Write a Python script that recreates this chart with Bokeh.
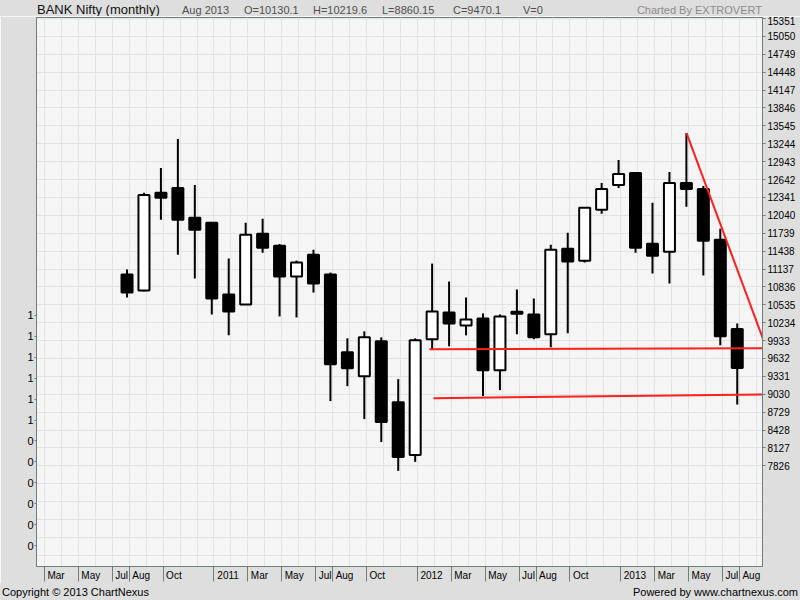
from bokeh.plotting import figure
from bokeh.models import FixedTicker, LinearAxis, Range1d, ColumnDataSource, Div
from bokeh.layouts import column
from bokeh.embed import file_html
from bokeh.resources import INLINE

# ---------------- data ----------------
months = ["2010-08", "2010-09", "2010-10", "2010-11", "2010-12",
          "2011-01", "2011-02", "2011-03", "2011-04", "2011-05", "2011-06",
          "2011-07", "2011-08", "2011-09", "2011-10", "2011-11", "2011-12",
          "2012-01", "2012-02", "2012-03", "2012-04", "2012-05", "2012-06",
          "2012-07", "2012-08", "2012-09", "2012-10", "2012-11", "2012-12",
          "2013-01", "2013-02", "2013-03", "2013-04", "2013-05", "2013-06",
          "2013-07", "2013-08"]
opens = [11044, 10776, 12418, 12502, 11999,
         11915, 10708, 10541, 11731, 11530, 11010,
         11379, 11044, 9736, 9334, 9921, 8898,
         8010, 9954, 10407, 10189, 10306, 9435,
         10420, 10373, 10038, 11479, 11278, 12133,
         12552, 12753, 11563, 11429, 12586, 12485,
         11630, 10130.1]
highs = [11127, 12418, 12837, 13323, 12552,
         11930, 11312, 11915, 11982, 11560, 11278,
         11463, 11077, 9971, 10088, 9988, 9284,
         9971, 11228, 10926, 10658, 10390, 10373,
         10792, 10641, 11546, 11748, 12180, 12586,
         12971, 12770, 12250, 12770, 13424, 12535,
         11815, 10219.6]
lows = [10658, 10760, 11965, 11379, 10977,
        10373, 10021, 10530, 11412, 10340, 10323,
        10742, 8915, 9167, 8613, 8228, 7742,
        7893, 9787, 9837, 10021, 8999, 9100,
        10038, 9954, 9820, 10055, 11245, 12066,
        12502, 11412, 11060, 10893, 12183, 11027,
        9854, 8860.15]
closes = [10742, 12384, 12334, 11965, 11798,
          10641, 10424, 11714, 11496, 11010, 11245,
          10893, 9535, 9468, 9988, 8563, 7977,
          9938, 10424, 10222, 10289, 9435, 10340,
          10385, 9988, 11463, 11262, 12167, 12485,
          12736, 11496, 11362, 12586, 12485, 11614,
          10005, 9470.1]

# right price axis tick values
price_ticks = [7826, 8127, 8428, 8729, 9030, 9331, 9632, 9933, 10234, 10535,
               10836, 11137, 11438, 11739, 12040, 12341, 12642, 12943, 13244,
               13545, 13846, 14147, 14448, 14749, 15050, 15351]
price_grid_extra = [6321, 6622, 6923, 7224, 7525]

# left (volume) axis ticks and labels
vol_ticks = [0, 1, 2, 3, 4, 5, 6, 7, 8, 9, 10, 11]
vol_labels = ["0", "0", "0", "0", "0", "0", "1", "1", "1", "1", "1", "1"]

# bottom axis ticks
x_tick_months = ["2010-03", "2010-05", "2010-07", "2010-08", "2010-10",
                 "2011-01", "2011-03", "2011-05", "2011-07", "2011-08", "2011-10",
                 "2012-01", "2012-03", "2012-05", "2012-07", "2012-08", "2012-10",
                 "2013-01", "2013-03", "2013-05", "2013-07", "2013-08"]
x_tick_labels = ["Mar", "May", "Jul", "Aug", "Oct",
                 "2011", "Mar", "May", "Jul", "Aug", "Oct",
                 "2012", "Mar", "May", "Jul", "Aug", "Oct",
                 "2013", "Mar", "May", "Jul", "Aug"]

# red trend lines (month position, price)
trend_down_x = [39.88, 44.6]
trend_down_y = [13424, 9800]
support1_x = [24.71, 44.6]
support1_y = [9787, 9803]
support2_x = [24.95, 44.6]
support2_y = [8965, 9028]

# header / footer texts
title_text = "BANK Nifty (monthly)"
info_texts = ["Aug 2013", "O=10130.1", "H=10219.6", "L=8860.15", "C=9470.1", "V=0"]
credit_text = "Charted By EXTROVERT"
copyright_text = "Copyright \u00a9 2013 ChartNexus"
powered_text = "Powered by www.chartnexus.com"


def month_index(s):
    y, m = s.split("-")
    return (int(y) - 2010) * 12 + int(m) - 1


# ---------------- layout constants ----------------
W = 800
HEAD_H, FOOT_H = 16, 17
FIG_H = 600 - HEAD_H - FOOT_H
FL, FR, FT, FB = 36, 38, 1, 15
FW = W - FL - FR
X0, X1 = 1.53, 44.36
PX_PER_MONTH = FW / (X1 - X0)
FONT = "Liberation Sans"
BORDER = "#6f7f7f"
BG = "#dedede"
AXIS_FS = 10

# Liberation Sans advance widths (per 1000 em) for axis label glyphs
_adv = {"M": 833, "a": 556, "r": 333, "y": 500, "J": 500, "u": 556, "l": 222,
        "A": 667, "g": 556, "O": 778, "c": 500, "t": 278}


def text_w(s, fs):
    return sum(_adv.get(ch, 556) for ch in s) * fs / 1000.0


CANDLE_SHIFT = -0.13
xs = [month_index(m) + CANDLE_SHIFT for m in months]
tops = [max(o, c) for o, c in zip(opens, closes)]
bottoms = [min(o, c) for o, c in zip(opens, closes)]
fills = ["#ffffff" if c > o else "#000000" for o, c in zip(opens, closes)]
src = ColumnDataSource(dict(x=xs, top=tops, bottom=bottoms, high=highs, low=lows, fill=fills))

p = figure(width=W, height=FIG_H, output_backend="svg", toolbar_location=None,
           x_range=Range1d(X0, X1), y_range=Range1d(6133, 15368),
           y_axis_location="right",
           min_border_left=FL, min_border_right=FR, min_border_top=FT, min_border_bottom=FB)
p.background_fill_color = "#f5f5f5"
p.border_fill_color = BG
p.outline_line_color = BORDER
p.outline_line_width = 1

# grids
p.xgrid.ticker = FixedTicker(ticks=list(range(2, 45)))
p.ygrid.ticker = FixedTicker(ticks=price_grid_extra + price_ticks)
p.xgrid.grid_line_color = "#e3e3e3"
p.ygrid.grid_line_color = "#e3e3e3"

# right axis
ya = p.yaxis[0]
ya.ticker = FixedTicker(ticks=price_ticks)
ya.major_label_text_font = FONT
ya.major_label_text_font_size = f"{AXIS_FS}px"
ya.major_label_text_color = "#000000"
ya.major_tick_out = 3
ya.major_tick_in = 0
ya.minor_tick_out = 0
ya.minor_tick_in = 0
ya.major_label_standoff = 2
ya.axis_line_color = BORDER
ya.major_tick_line_color = BORDER

# left volume axis
p.extra_y_ranges = {"vol": Range1d(-1.0, 25.24)}
la = LinearAxis(y_range_name="vol", ticker=FixedTicker(ticks=vol_ticks),
                major_label_overrides={t: l for t, l in zip(vol_ticks, vol_labels)})
la.major_label_text_font = FONT
la.major_label_text_font_size = "11px"
la.major_label_text_color = "#000000"
la.major_tick_out = 2
la.major_tick_in = 0
la.minor_tick_out = 0
la.minor_tick_in = 0
la.major_label_standoff = 1
la.axis_line_color = BORDER
la.major_tick_line_color = BORDER
p.add_layout(la, "left")

# bottom axis: tick lines at month starts (minor ticks), labels just right of them
xt = [month_index(m) for m in x_tick_months]
label_pos = [t + (3 + text_w(l, AXIS_FS) / 2) / PX_PER_MONTH for t, l in zip(xt, x_tick_labels)]
xa = p.xaxis[0]
xa.ticker = FixedTicker(ticks=label_pos, minor_ticks=xt)
xa.major_label_overrides = {t: l for t, l in zip(label_pos, x_tick_labels)}
xa.major_label_text_font = FONT
xa.major_label_text_font_size = f"{AXIS_FS}px"
xa.major_label_text_color = "#000000"
xa.major_tick_out = 0
xa.major_tick_in = 0
xa.minor_tick_out = 15
xa.minor_tick_in = 0
xa.minor_tick_line_color = BORDER
xa.major_label_standoff = -12
xa.axis_line_color = BORDER

# candles
p.segment(x0="x", y0="low", x1="x", y1="high", source=src, line_color="#000000", line_width=2)
p.vbar(x="x", width=0.65, top="top", bottom="bottom", source=src,
       fill_color="fill", line_color="#000000", line_width=2)

# trend lines
for tx, ty in ((trend_down_x, trend_down_y), (support1_x, support1_y), (support2_x, support2_y)):
    p.line(tx, ty, line_color="#ff1f1f", line_width=2)


# ---------------- header & footer strips ----------------
def span(txt, pos, top, size, lh, color):
    return (f'<span style="position:absolute;{pos};top:{top}px;font-size:{size}px;'
            f'line-height:{lh}px;color:{color};white-space:nowrap">{txt}</span>')


def strip(h, inner):
    return (f'<div style="position:relative;width:{W}px;height:{h}px;background:{BG};'
            f'overflow:hidden;font-family:\'{FONT}\',Arial,sans-serif">{inner}</div>')


info_left = [182, 244, 313, 382, 453, 523]
head = span(title_text, "left:37px", 2, 13, 15, "#111111")
head += "".join(span(t, f"left:{x}px", 3.5, 11, 13, "#505050") for t, x in zip(info_texts, info_left))
head += span(credit_text, "right:38px", 3.5, 11, 13, "#8c8c8c")
foot = span(copyright_text, "left:2px", 3, 11, 13, "#000000")
foot += span(powered_text, "right:2px", 3, 11, 13, "#000000")

header = Div(text=strip(HEAD_H, head), width=W, height=HEAD_H, margin=0)
footer = Div(text=strip(FOOT_H, foot), width=W, height=FOOT_H, margin=0)

layout = column(header, p, footer, spacing=0)

open("out.html", "w").write(file_html(layout, INLINE))
